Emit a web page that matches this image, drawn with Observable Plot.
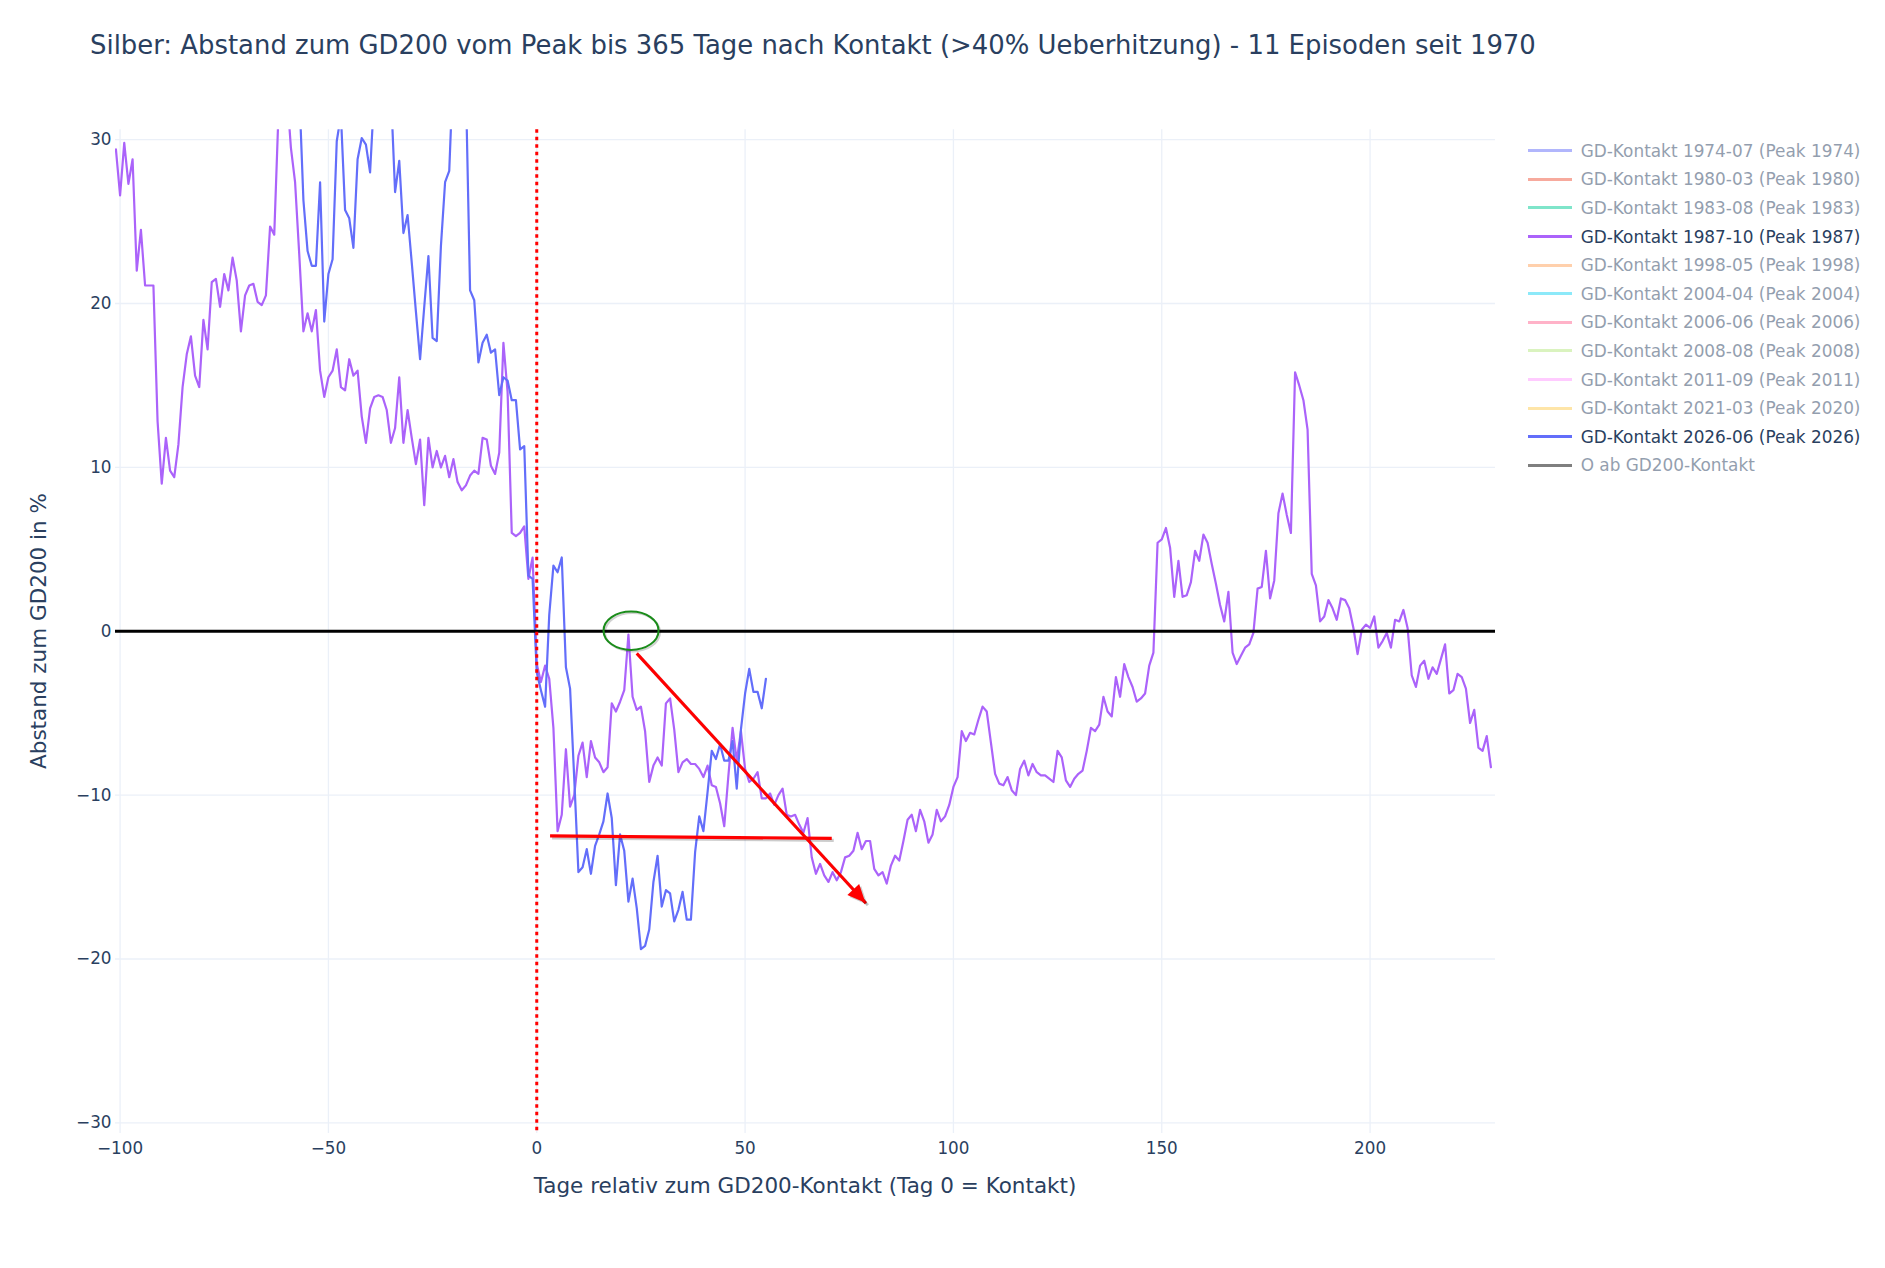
<!DOCTYPE html>
<html>
<head>
<meta charset="utf-8">
<script src="https://cdn.jsdelivr.net/npm/d3@7"></script>
<script src="https://cdn.jsdelivr.net/npm/@observablehq/plot@0.6"></script>
<style>
  body { margin: 0; background: #ffffff; }
  #wrap { position: relative; width: 1885px; height: 1268px; font-family: "DejaVu Sans", Verdana, sans-serif; color: #2a3f5f; overflow: hidden; }
  #title { position: absolute; left: 90px; top: 30px; font-size: 25.9px; line-height: 1.164; white-space: nowrap; }
  .axtitle { position: absolute; font-size: 21.5px; line-height: 1.164; white-space: nowrap; }
  #xtitle { left: 805px; top: 1186px; transform: translate(-50%, -50%); }
  #ytitle { left: 38.6px; top: 631px; transform: translate(-50%, -50%) rotate(-90deg); }
  .leg { position: absolute; left: 1527.7px; height: 24px; display: flex; align-items: center; font-size: 16.9px; white-space: nowrap; }
  .leg .sw { display: inline-block; width: 44.6px; height: 3px; margin-right: 8.4px; }
  #chart { position: absolute; left: 0; top: 0; }
</style>
</head>
<body>
<div id="wrap">
  <div id="chart"></div>
  <div id="title">Silber: Abstand zum GD200 vom Peak bis 365 Tage nach Kontakt (&gt;40% Ueberhitzung) - 11 Episoden seit 1970</div>
  <div id="xtitle" class="axtitle">Tage relativ zum GD200-Kontakt (Tag 0 = Kontakt)</div>
  <div id="ytitle" class="axtitle">Abstand zum GD200 in %</div>
</div>
<script>
// ---- Data ----
// 1987-10 episode: daily distance to GD200 (%), starting at day -101
const ep1987Start = -101;
const ep1987Values = [
  29.4, 26.6, 29.8, 27.3, 28.8, 22.0, 24.5, 21.1, 21.1, 21.1,
  12.8, 9.0, 11.8, 9.8, 9.4, 11.4, 14.9, 16.9, 18.0, 15.6,
  14.9, 19.0, 17.2, 21.3, 21.5, 19.8, 21.8, 20.8, 22.8, 21.4,
  18.3, 20.5, 21.1, 21.2, 20.1, 19.9, 20.5, 24.7, 24.2, 31.5,
  34, 33, 29.5, 27.4, 23.0, 18.3, 19.4, 18.3, 19.6, 15.9,
  14.3, 15.5, 15.9, 17.2, 14.9, 14.7, 16.6, 15.6, 15.9, 13.1,
  11.5, 13.6, 14.3, 14.4, 14.3, 13.5, 11.5, 12.4, 15.5, 11.5,
  13.5, 11.8, 10.2, 11.7, 7.7, 11.8, 10.0, 11.0, 10.0, 10.7,
  9.4, 10.5, 9.1, 8.6, 8.9, 9.5, 9.8, 9.6, 11.8, 11.7,
  10.1, 9.6, 10.9, 17.6, 14.6, 6.0, 5.8, 6.0, 6.4, 3.2,
  4.5, -2.0, -3.1, -2.1, -2.9, -5.9, -12.2, -11.2, -7.2, -10.7,
  -10.0, -7.6, -6.8, -8.9, -6.7, -7.7, -8.0, -8.6, -8.3, -4.4,
  -4.9, -4.3, -3.6, -0.2, -4.0, -4.8, -4.6, -6.1, -9.2, -8.2,
  -7.7, -8.2, -4.4, -4.1, -6.0, -8.6, -8.0, -7.8, -8.1, -8.1,
  -8.4, -8.9, -8.2, -9.4, -9.5, -10.5, -11.9, -8.8, -5.9, -7.9,
  -6.1, -8.4, -9.2, -9.0, -8.6, -10.2, -10.2, -9.9, -10.6, -10.0,
  -9.6, -11.2, -11.3, -11.2, -11.8, -12.3, -11.4, -13.8, -14.8, -14.2,
  -14.9, -15.3, -14.7, -15.2, -14.7, -13.8, -13.7, -13.4, -12.3, -13.3,
  -12.8, -12.8, -14.5, -14.9, -14.7, -15.4, -14.3, -13.7, -14.0, -12.8,
  -11.5, -11.2, -12.2, -10.9, -11.6, -12.9, -12.4, -10.9, -11.6, -11.3,
  -10.6, -9.5, -8.9, -6.1, -6.7, -6.2, -6.3, -5.4, -4.6, -4.9,
  -6.8, -8.7, -9.3, -9.4, -8.9, -9.7, -10.0, -8.4, -7.9, -8.8,
  -8.1, -8.6, -8.8, -8.8, -9.0, -9.2, -7.3, -7.7, -9.1, -9.5,
  -9.0, -8.7, -8.5, -7.3, -5.9, -6.1, -5.7, -4.0, -4.9, -5.2,
  -2.8, -4.0, -2.0, -2.8, -3.4, -4.3, -4.1, -3.8, -2.1, -1.3,
  5.4, 5.6, 6.3, 5.1, 2.1, 4.3, 2.1, 2.2, 3.0, 4.9,
  4.3, 5.9, 5.4, 4.1, 2.9, 1.6, 0.6, 2.4, -1.3, -2.0,
  -1.5, -1.0, -0.8, -0.1, 2.6, 2.7, 4.9, 2.0, 3.1, 7.2,
  8.4, 7.1, 6.0, 15.8, 15.0, 14.1, 12.3, 3.5, 2.8, 0.6,
  0.9, 1.9, 1.4, 0.7, 2.0, 1.9, 1.4, 0.2, -1.4, 0.1,
  0.4, 0.2, 0.9, -1.0, -0.6, -0.1, -1.0, 0.7, 0.6, 1.3,
  0.2, -2.7, -3.4, -2.1, -1.8, -2.9, -2.2, -2.6, -1.7, -0.8,
  -3.8, -3.6, -2.6, -2.8, -3.5, -5.6, -4.8, -7.1, -7.3, -6.4,
  -8.3
];

// 2026-06 episode: starting at day -57
const ep2026Start = -57;
const ep2026Values = [
  33, 26.3, 23.2, 22.3, 22.3, 27.4, 18.9, 21.8, 22.7, 29.9,
  31.5, 25.7, 25.2, 23.4, 28.8, 30.1, 29.7, 28.0, 32.8, 36,
  38, 35, 32.9, 26.8, 28.7, 24.3, 25.4, 22.5, 19.5, 16.6,
  19.8, 22.9, 17.9, 17.7, 23.5, 27.4, 28.1, 34.6, 37, 36,
  33.2, 20.8, 20.2, 16.4, 17.6, 18.1, 17.0, 17.2, 14.4, 15.5,
  15.3, 14.1, 14.1, 11.1, 11.3, 3.4, 3.2, -2.5, -3.6, -4.6,
  1.0, 4.0, 3.6, 4.5, -2.2, -3.5, -9.0, -14.7, -14.4, -13.3,
  -14.8, -13.1, -12.4, -11.6, -9.9, -11.4, -15.5, -12.4, -13.4, -16.5,
  -15.1, -16.9, -19.4, -19.2, -18.2, -15.3, -13.7, -16.8, -15.8, -16.0,
  -17.7, -17.0, -15.9, -17.6, -17.6, -13.5, -11.3, -12.2, -9.8, -7.3,
  -7.8, -6.9, -7.9, -7.9, -6.7, -9.6, -6.0, -3.8, -2.3, -3.7,
  -3.7, -4.7, -2.9
];

// Axis ticks
const xTicks = [-100, -50, 0, 50, 100, 150, 200];
const yTicks = [-30, -20, -10, 0, 10, 20, 30];
const xDomain = [-101.1, 230.1];
const yDomain = [-30.65, 30.6];

// Legend
const legendNames = [
  "GD-Kontakt 1974-07 (Peak 1974)", "GD-Kontakt 1980-03 (Peak 1980)", "GD-Kontakt 1983-08 (Peak 1983)",
  "GD-Kontakt 1987-10 (Peak 1987)", "GD-Kontakt 1998-05 (Peak 1998)", "GD-Kontakt 2004-04 (Peak 2004)",
  "GD-Kontakt 2006-06 (Peak 2006)", "GD-Kontakt 2008-08 (Peak 2008)", "GD-Kontakt 2011-09 (Peak 2011)",
  "GD-Kontakt 2021-03 (Peak 2020)", "GD-Kontakt 2026-06 (Peak 2026)", "O ab GD200-Kontakt"
];
const legendColors = ["#636efa", "#EF553B", "#00cc96", "#ab63fa", "#FFA15A", "#19d3f3", "#FF6692", "#B6E880", "#FF97FF", "#FECB52", "#636efa", "#000000"];
const legendVisible = [false, false, false, true, false, false, false, false, false, false, true, false];

// Annotations (data units)
const contactDay = [0];
const zeroLevel = [0];
const hLine = [{x1: 3.2, y1: -12.49, x2: 70.8, y2: -12.64}];
const arrowLine = [{x1: 24.0, y1: -1.35, x2: 79.0, y2: -16.6}];
const ellipseSpec = {cx: 22.75, cy: 0, rx: 6.6, ry: 1.17};

// ---- Build ----
const s1987 = ep1987Values.map((v, i) => ({day: ep1987Start + i, v}));
const s2026 = ep2026Values.map((v, i) => ({day: ep2026Start + i, v}));

const fmt = d => d < 0 ? "\u2212" + Math.abs(d) : String(d);

function annotationMark(index, scales) {
  const x = scales.x, y = scales.y;
  const g = d3.create("svg:g");
  // green ellipse
  const cx = x(ellipseSpec.cx), cy = y(ellipseSpec.cy);
  const rx = Math.abs(x(ellipseSpec.cx + ellipseSpec.rx) - cx);
  const ry = Math.abs(y(ellipseSpec.cy + ellipseSpec.ry) - cy);
  g.append("ellipse").attr("cx", cx + 1.5).attr("cy", cy + 1.5).attr("rx", rx).attr("ry", ry)
    .attr("fill", "none").attr("stroke", "#000").attr("stroke-opacity", 0.18).attr("stroke-width", 2);
  g.append("ellipse").attr("cx", cx).attr("cy", cy).attr("rx", rx).attr("ry", ry)
    .attr("fill", "none").attr("stroke", "#1a8c1a").attr("stroke-width", 2);
  // arrow head
  const a = arrowLine[0];
  const tx = x(a.x2), ty = y(a.y2);
  const sx = x(a.x1), sy = y(a.y1);
  const len = Math.hypot(tx - sx, ty - sy);
  const ux = (tx - sx) / len, uy = (ty - sy) / len;
  const hl = 18, hw = 8;
  const bx = tx - ux * hl, by = ty - uy * hl;
  const pts = [[tx, ty], [bx - uy * hw, by + ux * hw], [bx + uy * hw, by - ux * hw]];
  g.append("polygon").attr("points", pts.map(p => [p[0] + 2, p[1] + 2].join(",")).join(" "))
    .attr("fill", "#000").attr("fill-opacity", 0.2);
  g.append("polygon").attr("points", pts.map(p => p.join(",")).join(" ")).attr("fill", "#ff0000");
  return g.node();
}

const chart = Plot.plot({
  width: 1885,
  height: 1268,
  marginTop: 129.3,
  marginBottom: 135,
  marginLeft: 115,
  marginRight: 390,
  style: {fontFamily: "DejaVu Sans, Verdana, sans-serif", fontSize: "16.8px", color: "#2a3f5f", background: "transparent", overflow: "visible"},
  x: {domain: xDomain, ticks: xTicks, tickSize: 0, tickPadding: 9, tickFormat: fmt, label: null},
  y: {domain: yDomain, ticks: yTicks, tickSize: 0, tickPadding: 4, tickFormat: fmt, label: null},
  marks: [
    Plot.ruleX(xTicks, {stroke: "#EBF0F8", strokeWidth: 1.3}),
    Plot.ruleY(yTicks, {stroke: "#EBF0F8", strokeWidth: 1.3}),
    Plot.line(s1987, {x: "day", y: "v", stroke: "#ab63fa", strokeWidth: 2.2, clip: true}),
    Plot.line(s2026, {x: "day", y: "v", stroke: "#636efa", strokeWidth: 2.2, clip: true}),
    Plot.ruleY(zeroLevel, {stroke: "#000000", strokeWidth: 3.2}),
    Plot.ruleX(contactDay, {stroke: "#ff0000", strokeWidth: 3, strokeDasharray: "3.5,4"}),
    Plot.link(hLine, {x1: "x1", y1: "y1", x2: "x2", y2: "y2", stroke: "#000", strokeOpacity: 0.2, strokeWidth: 3.2, dx: 2, dy: 2}),
    Plot.link(hLine, {x1: "x1", y1: "y1", x2: "x2", y2: "y2", stroke: "#ff0000", strokeWidth: 3.2}),
    Plot.link(arrowLine, {x1: "x1", y1: "y1", x2: "x2", y2: "y2", stroke: "#000", strokeOpacity: 0.2, strokeWidth: 3, dx: 2, dy: 2}),
    Plot.link(arrowLine, {x1: "x1", y1: "y1", x2: "x2", y2: "y2", stroke: "#ff0000", strokeWidth: 3}),
    annotationMark
  ]
});
document.getElementById("chart").appendChild(chart);

// Legend
const wrap = document.getElementById("wrap");
legendNames.forEach((name, i) => {
  const cy = 150.7 + 28.6 * i;
  const div = document.createElement("div");
  div.className = "leg";
  div.style.top = (cy - 12) + "px";
  const sw = document.createElement("span");
  sw.className = "sw";
  sw.style.background = legendColors[i];
  const tx = document.createElement("span");
  tx.textContent = name;
  if (!legendVisible[i]) { sw.style.opacity = 0.5; tx.style.opacity = 0.5; }
  div.appendChild(sw);
  div.appendChild(tx);
  wrap.appendChild(div);
});
</script>
</body>
</html>
